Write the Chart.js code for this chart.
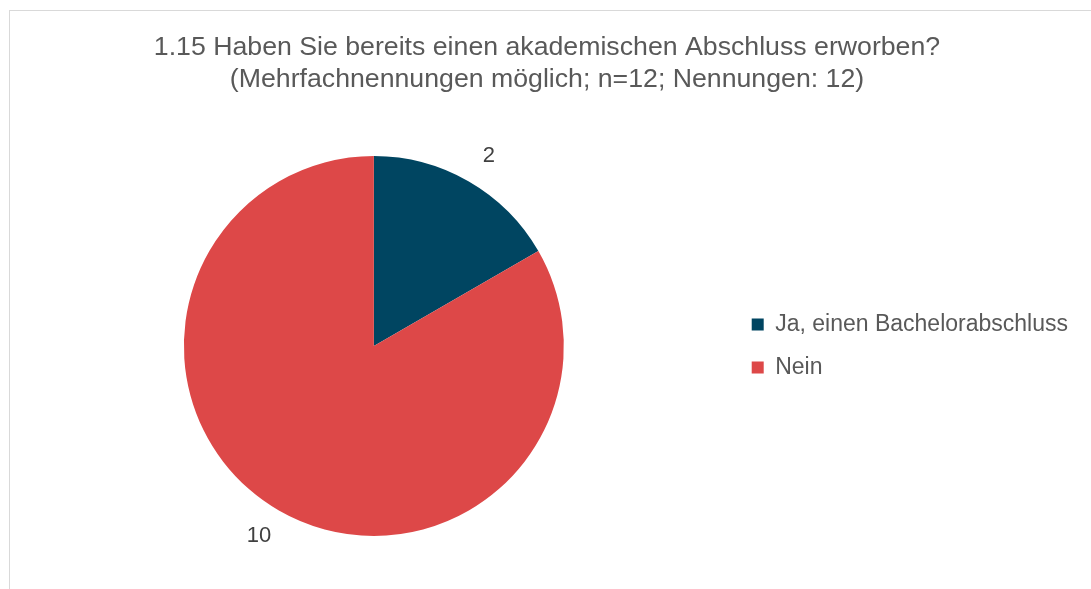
<!doctype html>
<html>

<head>
  <title>Akademischer Abschluss</title>
  <script src="https://cdn.jsdelivr.net/npm/chart.js@4"></script>
</head>
<style>
  body {
    margin: 0;
    background: #fff;
    font-family: "Liberation Sans", Arial, sans-serif;
    overflow: hidden;
  }

  .frame {
    position: absolute;
    left: 9px;
    top: 10px;
    width: 1200px;
    height: 700px;
    border: 1px solid #d9d9d9;
  }

  .chartContainer {
    position: absolute;
    left: 0;
    top: 0;
    width: 1078px;
    height: 589px;
  }
</style>

<body>
  <div class="frame"></div>
  <div class="chartContainer">
    <canvas id="pieId"></canvas>
  </div>
  <script>
    var categories = ["Ja, einen Bachelorabschluss", "Nein"];
    var counts = [2, 10];
    var colors = ["#004561", "#DD4848"];
    var titleLines = [
      "1.15 Haben Sie bereits einen akademischen Abschluss erworben?",
      "(Mehrfachnennungen möglich; n=12; Nennungen: 12)"
    ];

    // draws the count next to each slice, outside the pie
    var outsideLabels = {
      id: 'outsideLabels',
      afterDatasetsDraw: function (chart) {
        var ctx = chart.ctx;
        var meta = chart.getDatasetMeta(0);
        ctx.save();
        ctx.fillStyle = "#404040";
        ctx.font = "22px 'Liberation Sans', Arial, sans-serif";
        ctx.textAlign = "center";
        ctx.textBaseline = "middle";
        meta.data.forEach(function (arc, i) {
          var mid = (arc.startAngle + arc.endAngle) / 2 + 0.02;
          var r = arc.outerRadius * 1.17;
          ctx.fillText(chart.data.datasets[0].data[i], arc.x + Math.cos(mid) * r, arc.y + Math.sin(mid) * r);
        });
        ctx.restore();
      }
    };

    var ctx = document.getElementById("pieId").getContext('2d');
    var myChart = new Chart(ctx, {
      type: 'pie',
      data: {
        labels: categories,
        datasets: [{
          data: counts,
          backgroundColor: colors,
          borderWidth: 0
        }]
      },
      options: {
        responsive: true,
        maintainAspectRatio: false,
        animation: false,
        layout: {
          padding: { top: 0, bottom: 53, left: 16, right: 0 }
        },
        plugins: {
          title: {
            display: true,
            text: titleLines,
            color: "#595959",
            font: { family: "'Liberation Sans', Arial, sans-serif", size: 26.7, weight: 'normal', lineHeight: 1.2 },
            padding: { top: 32, bottom: 60 }
          },
          legend: {
            position: 'right',
            fullSize: false,
            labels: {
              color: "#595959",
              font: { family: "'Liberation Sans', Arial, sans-serif", size: 23 },
              boxWidth: 12,
              boxHeight: 12,
              padding: 20
            }
          },
          tooltip: { enabled: false }
        }
      },
      plugins: [outsideLabels]
    });
  </script>
</body>

</html>
